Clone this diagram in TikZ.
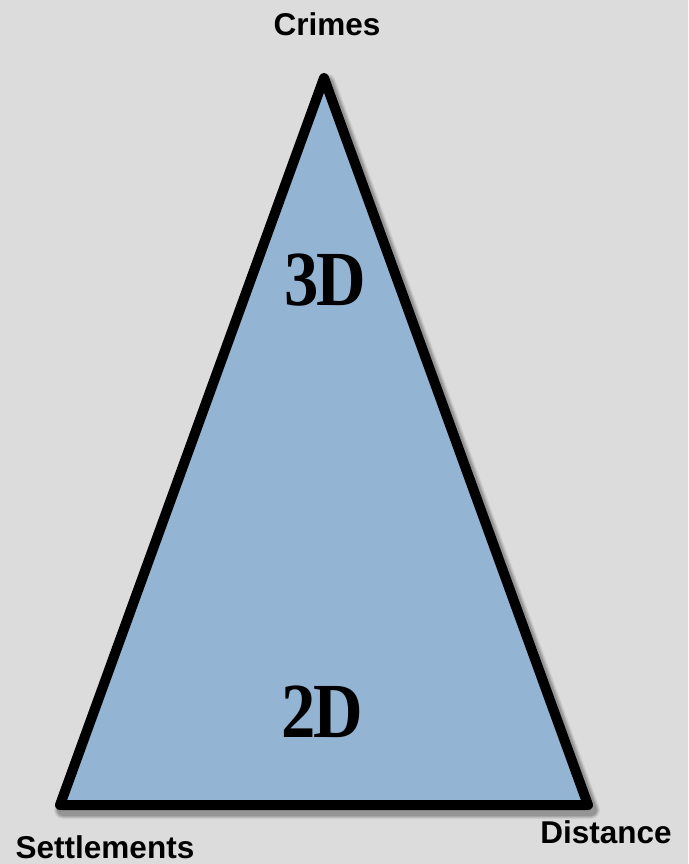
\documentclass[tikz,border=0pt]{standalone}
\usepackage{fontspec}
\setmainfont{Liberation Sans}
\newfontfamily\dimfont{Liberation Serif}
\usepackage{tikz}
\usetikzlibrary{positioning}

\definecolor{bggray}{HTML}{DCDCDC}
\definecolor{areablue}{HTML}{94B4D3}

\begin{document}
\begin{tikzpicture}[x=1pt, y=-1pt]
    \tikzstyle{corner} = [font=\bfseries\fontsize{31.5}{31.5}\selectfont, inner sep=0pt]
    \tikzstyle{dimlabel} = [font=\dimfont\bfseries\fontsize{78}{78}\selectfont, inner sep=0pt, xscale=0.88]
    \tikzstyle{edge} = [draw=black, line width=10pt, line join=round]

    % page
    \fill [bggray] (0,0) rectangle (688,864);
    \useasboundingbox (0,0) rectangle (688,864);

    \coordinate (top) at (324,78);
    \coordinate (left) at (60,805);
    \coordinate (right) at (588,805);

    % soft shadow
    \foreach \s/\o in {8/0.06, 6/0.08, 4/0.10, 2/0.12}
        \draw [line width=10pt+\s pt, line join=round, black, opacity=\o]
            ([shift={(3,5)}]top) -- ([shift={(3,5)}]left) -- ([shift={(3,5)}]right) -- cycle;

    \path [edge, fill=areablue] (top) -- (left) -- (right) -- cycle;

    \node [corner] (crimes) at (327,24) {Crimes};
    \node [corner] (settlements) at (105,847) {Settlements};
    \node [corner] (distance) at (606,832) {Distance};

    \node [dimlabel] (three) at (325,280) {3\kern-0.04em D};
    \node [dimlabel] (two) at (322,712) {2\kern-0.04em D};
\end{tikzpicture}
\end{document}
